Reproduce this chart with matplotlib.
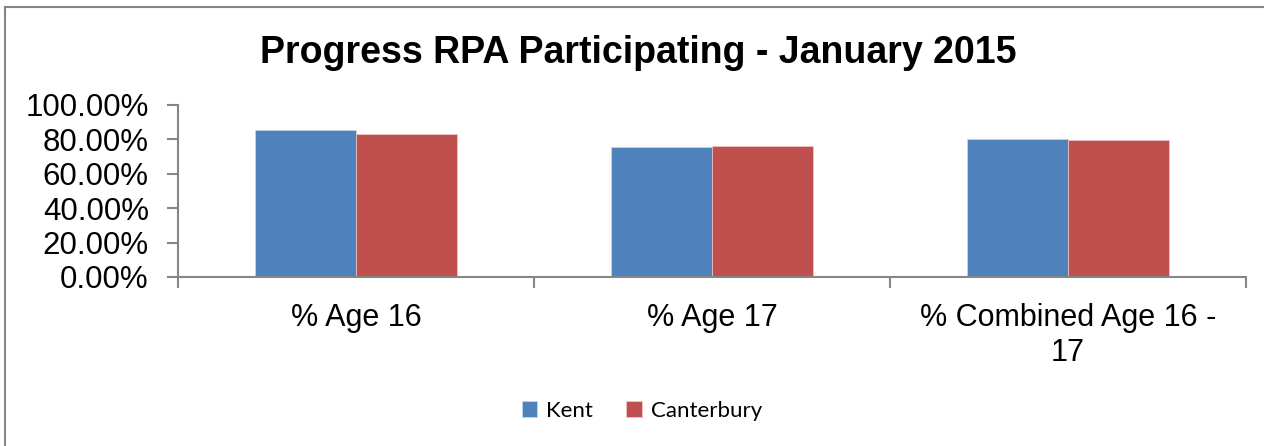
import matplotlib
matplotlib.use('Agg')
import matplotlib.pyplot as plt
from matplotlib.lines import Line2D
from matplotlib.ticker import PercentFormatter, FixedLocator
import numpy as np

# Chart data
categories = ['% Age 16', '% Age 17', '% Combined Age 16 -\n17']
kent = [0.857, 0.753, 0.803]
canterbury = [0.830, 0.763, 0.796]
series_names = ['Kent', 'Canterbury']

plt.rcParams['font.family'] = ['Liberation Sans', 'DejaVu Sans']

W, H = 1264, 446
fig = plt.figure(figsize=(W / 100, H / 100), dpi=100)
ax = fig.add_axes([178 / W, 1 - 277 / H, (1246 - 178) / W, (277 - 105) / H])

x = np.arange(len(categories))
bw = 0.285  # bar width (Excel gap ~150%)
ax.bar(x - bw / 2, kent, bw, color='#4F81BD', label=series_names[0], edgecolor='#c9d7ea', linewidth=0.5)
ax.bar(x + bw / 2, canterbury, bw, color='#C0504D', label=series_names[1], edgecolor='#efc9c8', linewidth=0.5)

ax.set_xlim(-0.5, len(categories) - 0.5)
ax.set_ylim(0, 1.0)
ax.set_yticks(np.arange(0, 1.01, 0.2))
ax.yaxis.set_major_formatter(PercentFormatter(1.0, decimals=2))

# category labels centred, tick marks on the category boundaries
ax.set_xticks(x)
ax.set_xticklabels(categories, fontsize=22, linespacing=1.2)
ax.xaxis.set_minor_locator(FixedLocator(np.arange(-0.5, len(categories), 1.0)))
ax.tick_params(axis='x', which='major', length=0, pad=19)
ax.tick_params(axis='x', which='minor', length=8, width=1.5, color='#868686', direction='out')
ax.tick_params(axis='y', labelsize=22.5, length=8, width=1.5, color='#868686', pad=13)

for side in ('top', 'right'):
    ax.spines[side].set_visible(False)
for side in ('left', 'bottom'):
    ax.spines[side].set_color('#868686')
    ax.spines[side].set_linewidth(1.5)

fig.text(638 / W, 1 - 63 / H, 'Progress RPA Participating - January 2015',
         ha='center', va='baseline', fontsize=27, fontweight='bold')

leg = fig.legend(loc='center', bbox_to_anchor=(642 / W, 1 - 411 / H), ncol=2,
                 frameon=False, prop={'family': ['Lato', 'DejaVu Sans'], 'size': 16},
                 handlelength=0.7, handleheight=0.7, handletextpad=0.4, columnspacing=1.5)

# outer chart frame (only top and left visible)
fy = 1 - 7 / H
fx = 5 / W
fig.add_artist(Line2D([fx, fx], [0, fy], color='#868686', lw=1.5, transform=fig.transFigure))
fig.add_artist(Line2D([fx, 1], [fy, fy], color='#868686', lw=1.5, transform=fig.transFigure))

fig.savefig('out.png', dpi=100)
